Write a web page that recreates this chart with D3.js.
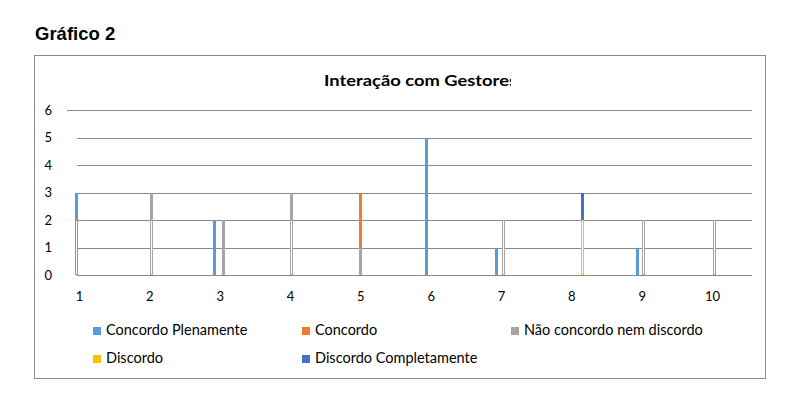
<!DOCTYPE html>
<html lang="pt">
<head>
<meta charset="utf-8">
<title>Gráfico 2 - Interação com Gestores</title>
<script src="https://d3js.org/d3.v7.min.js"></script>
<style>
  body { margin: 0; background: #fff; }
  svg { display: block; }
  .lbl { font-family: Lato, "Open Sans", sans-serif; fill: #000; }
</style>
</head>
<body>
<div id="chart"></div>
<script>

// tick labels on the two axes
var categories = [1, 2, 3, 4, 5, 6, 7, 8, 9, 10];
var yTicks = [0, 1, 2, 3, 4, 5, 6];

// series, in legend order
var seriesNames = ["Concordo Plenamente", "Concordo", "Não concordo nem discordo", "Discordo", "Discordo Completamente"];
var seriesColors = ["#5B9BD5", "#ED7D31", "#A5A5A5", "#FFC000", "#4472C4"];

// the bars sit at these x values (linear axis)
var barX = [0.965, 2.03, 2.93, 3.05, 4.02, 5.0, 5.94, 6.94, 7.03, 8.16, 8.94, 9.03, 10.03];

// bottom part drawn only as an outline (series name, value)
var outlineSeries = ["Concordo", "Não concordo nem discordo", null, null, "Não concordo nem discordo", null, null, null,
                     "Não concordo nem discordo", "Discordo", null, "Não concordo nem discordo", "Não concordo nem discordo"];
var outlineValues = [2, 2, 0, 0, 2, 0, 0, 0, 2, 2, 0, 2, 2];

// filled parts, stacked on top of the outline
var naoConcordo           = [0, 1, 0, 2, 1, 1, 0, 0, 0, 0, 0, 0, 0];
var concordo              = [0, 0, 0, 0, 0, 2, 0, 0, 0, 0, 0, 0, 0];
var concordoPlenamente    = [1, 0, 2, 0, 0, 0, 5, 1, 0, 0, 1, 0, 0];
var discordo              = [0, 0, 0, 0, 0, 0, 0, 0, 0, 0, 0, 0, 0];
var discordoCompletamente = [0, 0, 0, 0, 0, 0, 0, 0, 0, 1, 0, 0, 0];

var W = 796, H = 410;
var plotLeft = 77, plotRight = 752;

var svg = d3.select("#chart").append("svg")
  .attr("width", W)
  .attr("height", H);

var color = d3.scaleOrdinal().domain(seriesNames).range(seriesColors);

// page heading
svg.append("text")
  .attr("x", 35).attr("y", 40)
  .style("font-family", "Arial, 'Liberation Sans', sans-serif")
  .style("font-weight", "bold")
  .style("font-size", "18.5px")
  .text("Gráfico 2");

// chart frame
svg.append("rect")
  .attr("x", 34.5).attr("y", 55.5)
  .attr("width", 731).attr("height", 323)
  .attr("fill", "#fff")
  .attr("stroke", "#898989");

// chart title (clipped on the right like the original)
svg.append("clipPath").attr("id", "titleclip")
  .append("rect").attr("x", 300).attr("y", 60).attr("width", 211).attr("height", 40);

svg.append("text")
  .attr("class", "lbl")
  .attr("clip-path", "url(#titleclip)")
  .attr("x", 324).attr("y", 86)
  .attr("textLength", 193)
  .attr("lengthAdjust", "spacingAndGlyphs")
  .style("font-weight", "bold")
  .style("font-size", "16px")
  .text("Interação com Gestores");

// scales
var x = d3.scaleLinear().domain([1, 10]).range([79, 712]);
var y = d3.scaleLinear().domain([0, 6]).range([275, 110]);

// gridlines
svg.append("g").selectAll("line")
  .data(yTicks)
  .enter().append("line")
    .attr("x1", function(d) { return d == 6 ? 67 : plotLeft; })
    .attr("x2", plotRight)
    .attr("y1", function(d) { return Math.round(y(d)) + 0.5; })
    .attr("y2", function(d) { return Math.round(y(d)) + 0.5; })
    .attr("stroke", "#898989")
    .attr("stroke-width", 1);

// Y axis labels
var yAxis = svg.append("g")
  .attr("transform", "translate(55,0)")
  .call(d3.axisLeft(y).tickValues(yTicks).tickSize(0).tickPadding(3).tickFormat(d3.format("d")));
yAxis.select(".domain").remove();
yAxis.selectAll("text")
  .attr("class", "lbl")
  .style("font-size", "13px");

// X axis labels
var xAxis = svg.append("g")
  .attr("transform", "translate(0,275)")
  .call(d3.axisBottom(x).tickValues(categories).tickSize(0).tickPadding(17).tickFormat(d3.format("d")));
xAxis.select(".domain").remove();
xAxis.selectAll("text")
  .attr("class", "lbl")
  .style("font-size", "13px");

// build rows and stack them
var keys = ["outline", "Não concordo nem discordo", "Concordo", "Concordo Plenamente", "Discordo", "Discordo Completamente"];
var rows = barX.map(function(v, i) {
  return {
    x: v,
    outlineName: outlineSeries[i],
    "outline": outlineValues[i],
    "Não concordo nem discordo": naoConcordo[i],
    "Concordo": concordo[i],
    "Concordo Plenamente": concordoPlenamente[i],
    "Discordo": discordo[i],
    "Discordo Completamente": discordoCompletamente[i]
  };
});
var stacked = d3.stack().keys(keys)(rows);

var barW = 3;

stacked.forEach(function(layer) {
  var isOutline = layer.key == "outline";
  svg.append("g").selectAll("rect")
    .data(layer.filter(function(d) { return d[1] > d[0]; }))
    .enter().append("rect")
      .attr("x", function(d) { return Math.round(x(d.data.x) - barW / 2) + (isOutline ? 0.5 : 0); })
      .attr("width", isOutline ? barW - 1 : barW)
      .attr("y", function(d) { return Math.round(y(d[1])) + (isOutline ? 0.5 : 0); })
      .attr("height", function(d) { return Math.round(y(d[0])) - Math.round(y(d[1])) - (isOutline ? 1 : 0); })
      .attr("fill", isOutline ? "#fff" : color(layer.key))
      .attr("stroke", function(d) { return isOutline ? color(d.data.outlineName) : "none"; })
      .attr("stroke-width", 1);
});

// legend
var legendPos = [[93, 327], [302, 327], [511, 327], [93, 355], [302, 355]];
var legend = svg.append("g").selectAll("g")
  .data(seriesNames)
  .enter().append("g")
    .attr("transform", function(d, i) { return "translate(" + legendPos[i][0] + "," + legendPos[i][1] + ")"; });

legend.append("rect")
  .attr("width", 8).attr("height", 8)
  .attr("fill", function(d) { return color(d); });

legend.append("text")
  .attr("class", "lbl")
  .attr("x", 13).attr("y", 8)
  .style("font-size", "14.5px")
  .text(function(d) { return d; });

</script>
</body>
</html>
